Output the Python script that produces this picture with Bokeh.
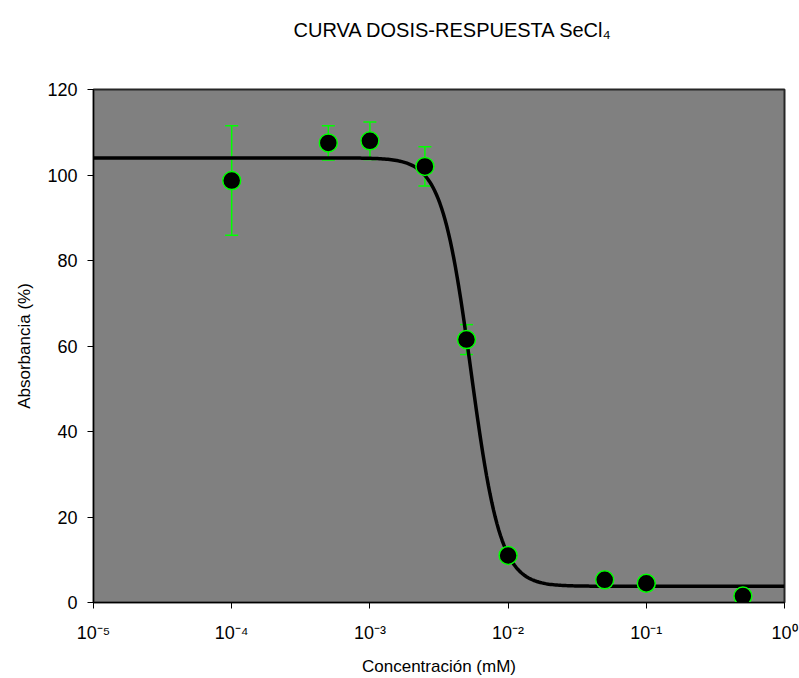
import numpy as np
from bokeh.plotting import figure
from bokeh.models import Range1d, FixedTicker, Whisker, TeeHead, ColumnDataSource, Title
from bokeh.embed import file_html
from bokeh.resources import INLINE

# ---- data ----
conc = [1e-4, 5e-4, 1e-3, 2.5e-3, 5e-3, 1e-2, 5e-2, 1e-1, 5e-1]          # mM
absorb = [98.7, 107.5, 108.0, 102.0, 61.5, 11.0, 5.3, 4.5, 1.5]          # %
err = [12.8, 4.0, 4.4, 4.6, 3.5, 1.0, 1.0, 1.0, 1.0]                      # +/- %

# fitted 4-parameter logistic curve shown in the chart
fit_top = 104.0
fit_bottom = 3.8
fit_ic50 = 5.4e-3
fit_hill = 4.1

x_ticks = [1e-5, 1e-4, 1e-3, 1e-2, 1e-1, 1.0]
x_tick_labels = ["10⁻⁵", "10⁻⁴", "10⁻³", "10⁻²", "10⁻¹", "10⁰"]
y_ticks = [0, 20, 40, 60, 80, 100, 120]

title_text = "CURVA DOSIS-RESPUESTA SeCl₄"

FONT = "Liberation Sans"

curve_x = np.logspace(-5, 0, 400)
curve_y = fit_bottom + (fit_top - fit_bottom) / (1.0 + (curve_x / fit_ic50) ** fit_hill)

src = ColumnDataSource(dict(
    x=conc, y=absorb,
    upper=[a + e for a, e in zip(absorb, err)],
    lower=[a - e for a, e in zip(absorb, err)],
))

p = figure(width=799, height=678, x_axis_type="log",
           x_range=Range1d(1e-5, 1), y_range=Range1d(0, 120),
           output_backend="svg", toolbar_location=None,
           min_border_left=93, min_border_right=15,
           min_border_top=89, min_border_bottom=76)

# trailing blank lines lift the title towards the top of the canvas
p.title = Title(text=title_text + "\n\n", align="left", offset=200,
                vertical_align="top", standoff=5,
                text_font=FONT, text_font_size="20px",
                text_font_style="normal", text_color="black")

p.background_fill_color = "#808080"
p.border_fill_color = "white"
p.outline_line_color = "#262626"
p.outline_line_width = 2
p.xgrid.visible = False
p.ygrid.visible = False

# axes
p.xaxis.ticker = FixedTicker(ticks=x_ticks)
p.xaxis.major_label_overrides = {v: s for v, s in zip(x_ticks, x_tick_labels)}
p.yaxis.ticker = FixedTicker(ticks=y_ticks)
for ax in (p.xaxis[0], p.yaxis[0]):
    ax.axis_line_color = "black"
    ax.axis_line_width = 1
    ax.major_tick_line_color = "black"
    ax.major_tick_out = 6
    ax.major_tick_in = 0
    ax.minor_tick_line_color = None
    ax.major_label_text_font = FONT
    ax.major_label_text_font_size = "18px"
    ax.major_label_text_color = "black"
    ax.axis_label_text_font = FONT
    ax.axis_label_text_font_size = "17px"
    ax.axis_label_text_font_style = "normal"
    ax.axis_label_text_color = "black"

p.xaxis.axis_label = "Concentración (mM)"
p.yaxis.axis_label = "Absorbancia (%)"
p.yaxis.major_label_standoff = 10
p.xaxis.major_label_standoff = 14
p.yaxis.axis_label_standoff = 10
p.xaxis.axis_label_standoff = 11

# error bars
wh = Whisker(source=src, base="x", upper="upper", lower="lower",
             line_color="#00ff00", line_width=1.5,
             upper_head=TeeHead(size=13, line_color="#00ff00", line_width=1.5),
             lower_head=TeeHead(size=13, line_color="#00ff00", line_width=1.5))
p.add_layout(wh)

# fitted curve
p.line(curve_x, curve_y, line_color="black", line_width=3.5)

# data points
p.scatter("x", "y", source=src, size=18, fill_color="black",
          line_color="#00ff00", line_width=1.5)

open("out.html", "w").write(file_html(p, INLINE))
